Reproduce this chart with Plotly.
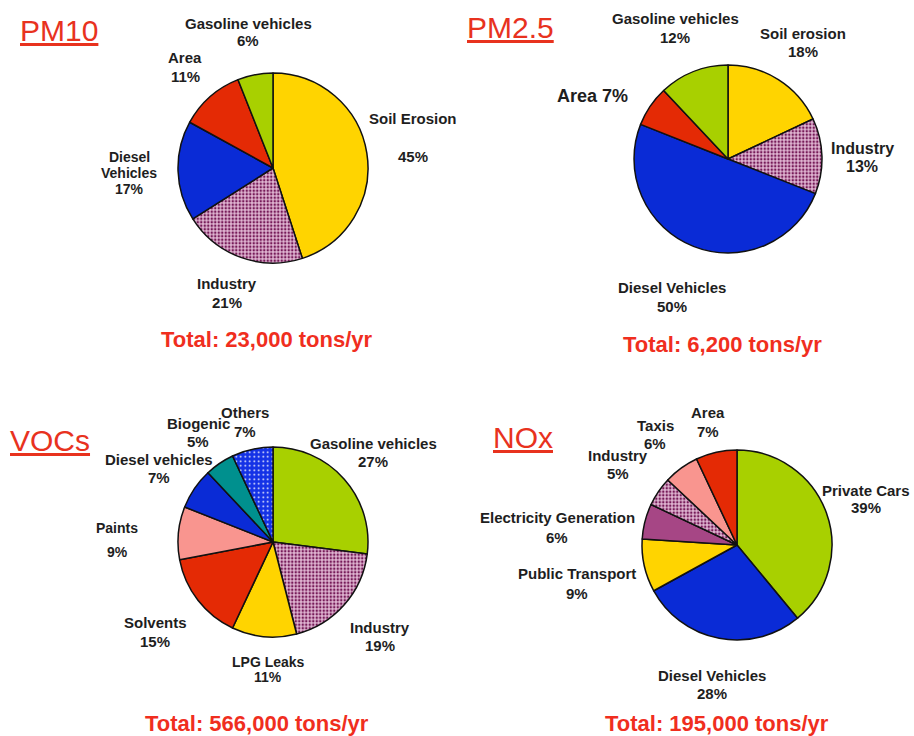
import plotly.graph_objects as go

# ---------------- data ----------------
pm10_labels = ["Soil Erosion", "Industry", "Diesel Vehicles", "Area", "Gasoline vehicles"]
pm10_values = [45, 21, 17, 11, 6]
pm10_total = "23,000"

pm25_labels = ["Soil erosion", "Industry", "Diesel Vehicles", "Area", "Gasoline vehicles"]
pm25_values = [18, 13, 50, 7, 12]
pm25_total = "6,200"

voc_labels = ["Gasoline vehicles", "Industry", "LPG Leaks", "Solvents", "Paints",
              "Diesel vehicles", "Biogenic", "Others"]
voc_values = [27, 19, 11, 15, 9, 7, 5, 7]
voc_total = "566,000"

nox_labels = ["Private Cars", "Diesel Vehicles", "Public Transport", "Electricity Generation",
              "Industry", "Taxis", "Area"]
nox_values = [39, 28, 9, 6, 5, 6, 7]
nox_total = "195,000"

# ---------------- styling ----------------
W, H = 914, 736
YEL = "#FFD400"
RED = "#E42A05"
BLU = "#0A2BD6"
GRN = "#A8D000"
SAL = "#F9958F"
TEAL = "#00908E"
MAUVE = "#A64685"
IND_BG = "#E0B6D2"
IND_FG = "#761A58"
OTH_BG = "#1432E6"

def px(x):
    return x / W

def py(y):
    return 1 - y / H

def dom(cx, cy, r):
    return dict(x=[px(cx - r), px(cx + r)], y=[py(cy + r), py(cy - r)])

def pattern_spec(kinds):
    shapes, fgs, bgs, sols, sizes = [], [], [], [], []
    for k in kinds:
        if k == "ind":
            shapes.append("."); fgs.append(IND_FG); bgs.append(IND_BG); sols.append(0.4); sizes.append(3.5)
        elif k == "oth":
            shapes.append("."); fgs.append("#FFFFFF"); bgs.append(OTH_BG); sols.append(0.12); sizes.append(4.5)
        else:
            shapes.append(""); fgs.append("rgba(0,0,0,0)"); bgs.append("rgba(0,0,0,0)"); sols.append(0.3); sizes.append(4)
    return dict(shape=shapes, fgcolor=fgs, bgcolor=bgs, size=sizes, solidity=sols)

charts = [
    dict(labels=pm10_labels, values=pm10_values, center=(273, 168, 95),
         colors=[YEL, IND_BG, BLU, RED, GRN], pat=["", "ind", "", "", ""]),
    dict(labels=pm25_labels, values=pm25_values, center=(728, 159, 94),
         colors=[YEL, IND_BG, BLU, RED, GRN], pat=["", "ind", "", "", ""]),
    dict(labels=voc_labels, values=voc_values, center=(273, 542, 95),
         colors=[GRN, IND_BG, YEL, RED, SAL, BLU, TEAL, OTH_BG],
         pat=["", "ind", "", "", "", "", "", "oth"]),
    dict(labels=nox_labels, values=nox_values, center=(737, 545, 95),
         colors=[GRN, BLU, YEL, MAUVE, IND_BG, SAL, RED],
         pat=["", "", "", "", "ind", "", ""]),
]

fig = go.Figure()
for c in charts:
    cx, cy, r = c["center"]
    fig.add_trace(go.Pie(
        labels=c["labels"], values=c["values"], sort=False, direction="clockwise",
        rotation=0, textinfo="none", hoverinfo="label+percent", showlegend=False,
        domain=dom(cx, cy, r),
        marker=dict(colors=c["colors"], line=dict(color="#111111", width=1.5),
                    pattern=pattern_spec(c["pat"])),
    ))

# label placement: (chart, slice) -> (x, line y positions, font size, split name into words)
# the last y is for the percentage; a single y means "name pct" on one line
label_pos = {
    (0, 0): (413, [118, 157], 15, False),
    (0, 1): (227, [283, 302], 15, False),
    (0, 2): (129, [157, 173, 189], 14, True),
    (0, 3): (185, [57, 76], 15, False),
    (0, 4): (248, [23, 41], 15, False),
    (1, 0): (803, [33, 51], 15, False),
    (1, 1): (862, [148, 166], 16, False),
    (1, 2): (672, [287, 306], 15, False),
    (1, 3): (592, [96], 18, False),
    (1, 4): (675, [19, 37], 15, False),
    (2, 0): (373, [443, 462], 15, False),
    (2, 1): (380, [627, 645], 15, False),
    (2, 2): (268, [662, 677], 14, False),
    (2, 3): (155, [622, 641], 15, False),
    (2, 4): (117, [528, 552], 14, False),
    (2, 5): (159, [459, 477], 15, False),
    (2, 6): (198, [423, 441], 15, False),
    (2, 7): (245, [412, 431], 15, False),
    (3, 0): (866, [490, 508], 15, False),
    (3, 1): (712, [675, 693], 15, False),
    (3, 2): (577, [573, 593], 15, False),
    (3, 3): (557, [517, 537], 15, False),
    (3, 4): (618, [455, 473], 15, False),
    (3, 5): (655, [425, 443], 15, False),
    (3, 6): (708, [412, 431], 15, False),
}

TXT = "#1E1E1E"
FONT = "Liberation Sans, Arial, sans-serif"
annotations = []
for (ci, si), (x, ys, sz, split) in label_pos.items():
    name = charts[ci]["labels"][si]
    pct = f"{charts[ci]['values'][si]}%"
    if len(ys) == 1:
        lines = [f"{name} {pct}"]
    else:
        lines = (name.split(" ") if split else [name]) + [pct]
    for y, t in zip(ys, lines):
        annotations.append(dict(x=px(x), y=py(y), text=f"<b>{t}</b>",
                                font=dict(size=sz, color=TXT, family=FONT)))

# titles
titles = [("PM10", 59, 30), ("PM2.5", 510, 27), ("VOCs", 50, 440), ("NOx", 523, 437)]
for t, x, y in titles:
    annotations.append(dict(x=px(x), y=py(y), text=f"<u>{t}</u>",
                            font=dict(size=30, color="#E8321E", family=FONT)))

totals = [(pm10_total, 267, 340), (pm25_total, 722, 344),
          (voc_total, 257, 723), (nox_total, 717, 723)]
for t, x, y in totals:
    annotations.append(dict(x=px(x), y=py(y), text=f"<b>Total: {t} tons/yr</b>",
                            font=dict(size=22, color="#F02E1E", family=FONT)))

for a in annotations:
    a.update(xref="paper", yref="paper", showarrow=False, xanchor="center", yanchor="middle")

fig.update_layout(
    width=W, height=H, margin=dict(l=0, r=0, t=0, b=0),
    paper_bgcolor="white", plot_bgcolor="white",
    annotations=annotations,
)

fig.write_html(
    "out.html",
    config={"displayModeBar": False},
    post_script="document.body.style.margin='0px';document.body.style.overflow='hidden';",
)
